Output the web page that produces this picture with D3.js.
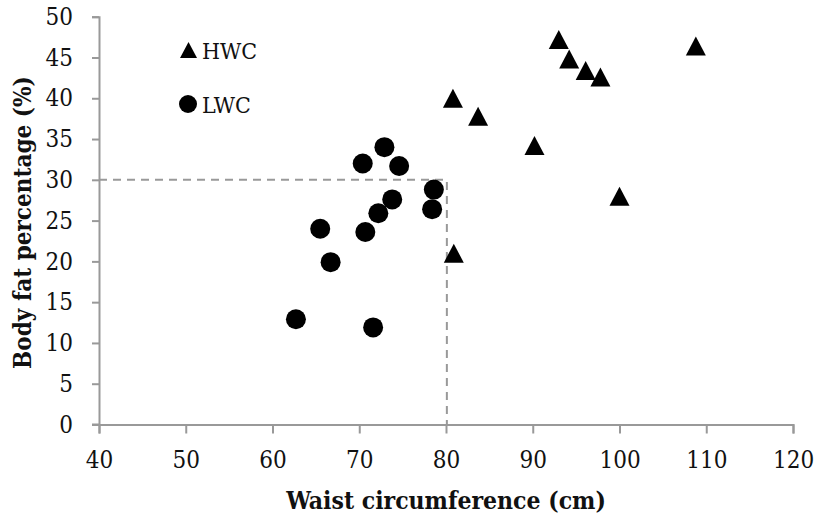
<!DOCTYPE html>
<html>
<head>
<meta charset="utf-8">
<script src="https://cdn.jsdelivr.net/npm/d3@7"></script>
<style>
  html, body { margin: 0; padding: 0; background: #fff; }
  svg { display: block; }
</style>
</head>
<body>
<svg id="chart" width="815" height="519"></svg>
<script>
// ---- Data ----
const hwcWaist = [93.0, 94.2, 96.1, 97.8, 108.8, 80.8, 83.7, 90.2, 100.0, 80.9];
const hwcFat   = [47.2, 44.8, 43.4, 42.6, 46.4, 40.0, 37.8, 34.2, 28.0, 21.0];
const lwcWaist = [72.9, 70.4, 74.6, 78.6, 73.8, 78.4, 72.2, 65.5, 70.7, 66.7, 62.7, 71.6];
const lwcFat   = [34.0, 32.0, 31.7, 28.8, 27.6, 26.4, 25.9, 24.0, 23.6, 19.9, 12.9, 11.9];
const xTicks = [40, 50, 60, 70, 80, 90, 100, 110, 120];
const yTicks = [0, 5, 10, 15, 20, 25, 30, 35, 40, 45, 50];
const cutoffWaist = [80.1];
const cutoffFat = [30];
const seriesNames = ["HWC", "LWC"];
const xTitle = "Waist circumference (cm)";
const yTitle = "Body fat percentage (%)";

// ---- Layout ----
const W = 815, H = 519;
const margin = {left: 99, top: 16.7, right: 22, bottom: 94.5};
const svg = d3.select("#chart");
const x = d3.scaleLinear().domain([40, 120]).range([margin.left, W - margin.right]);
const y = d3.scaleLinear().domain([0, 50]).range([H - margin.bottom, margin.top]);

const axisColor = "#999999";
const font = "'DejaVu Serif Condensed', 'DejaVu Serif', serif";

// Axes
const gx = svg.append("g")
  .attr("transform", `translate(0,${y(0)})`)
  .call(d3.axisBottom(x).tickValues(xTicks).tickSize(9).tickPadding(17).tickFormat(d3.format("d")));
const gy = svg.append("g")
  .attr("transform", `translate(${x(40)},0)`)
  .call(d3.axisLeft(y).tickValues(yTicks).tickSize(7).tickPadding(19).tickFormat(d3.format("d")));

[gx, gy].forEach(g => {
  g.select(".domain").attr("stroke", axisColor).attr("stroke-width", 2);
  g.selectAll(".tick line").attr("stroke", axisColor).attr("stroke-width", 2);
  g.selectAll(".tick text").attr("fill", "#111")
    .style("font-family", font).style("font-stretch", "condensed").style("font-size", "24px");
});

svg.append("line")
  .attr("x1", x(40) - 7).attr("x2", x(40))
  .attr("y1", y(0)).attr("y2", y(0))
  .attr("stroke", axisColor).attr("stroke-width", 2);

// Cut-off dashed lines
const dash = svg.append("g")
  .attr("fill", "none").attr("stroke", "#999999").attr("stroke-width", 2)
  .attr("stroke-dasharray", "8,6");
dash.append("path")
  .attr("d", d3.line()([[x(40), y(cutoffFat[0])], [x(cutoffWaist[0]), y(cutoffFat[0])], [x(cutoffWaist[0]), y(0)]]));

// Markers
function triPath(w, h) {
  return `M0,${-h/2}L${w/2},${h/2}L${-w/2},${h/2}Z`;
}
svg.append("g").selectAll("circle")
  .data(d3.range(lwcWaist.length))
  .join("circle")
  .attr("cx", i => x(lwcWaist[i]))
  .attr("cy", i => y(lwcFat[i]))
  .attr("r", 10)
  .attr("fill", "#000");

svg.append("g").selectAll("path")
  .data(d3.range(hwcWaist.length))
  .join("path")
  .attr("transform", i => `translate(${x(hwcWaist[i])},${y(hwcFat[i])})`)
  .attr("d", triPath(20, 19))
  .attr("fill", "#000");

// Legend
const leg = svg.append("g");
leg.append("path")
  .attr("transform", `translate(188.5,50)`)
  .attr("d", triPath(17, 16))
  .attr("fill", "#000");
leg.append("circle").attr("cx", 188).attr("cy", 104).attr("r", 9).attr("fill", "#000");
leg.append("text").attr("x", 202).attr("y", 59).text(seriesNames[0])
  .style("font-family", font).style("font-stretch", "condensed").style("font-size", "23px").attr("fill", "#111");
leg.append("text").attr("x", 202).attr("y", 113).text(seriesNames[1])
  .style("font-family", font).style("font-stretch", "condensed").style("font-size", "23px").attr("fill", "#111");

// Axis titles
svg.append("text")
  .attr("x", (x(40) + x(120)) / 2).attr("y", 509)
  .attr("text-anchor", "middle")
  .style("font-family", font).style("font-stretch", "condensed").style("font-weight", "bold").style("font-size", "24.5px")
  .attr("fill", "#111")
  .text(xTitle);
svg.append("text")
  .attr("transform", `translate(31,${(y(0) + y(50)) / 2 + 2}) rotate(-90)`)
  .attr("text-anchor", "middle")
  .style("font-family", font).style("font-stretch", "condensed").style("font-weight", "bold").style("font-size", "24px")
  .attr("fill", "#111")
  .text(yTitle);
</script>
</body>
</html>
